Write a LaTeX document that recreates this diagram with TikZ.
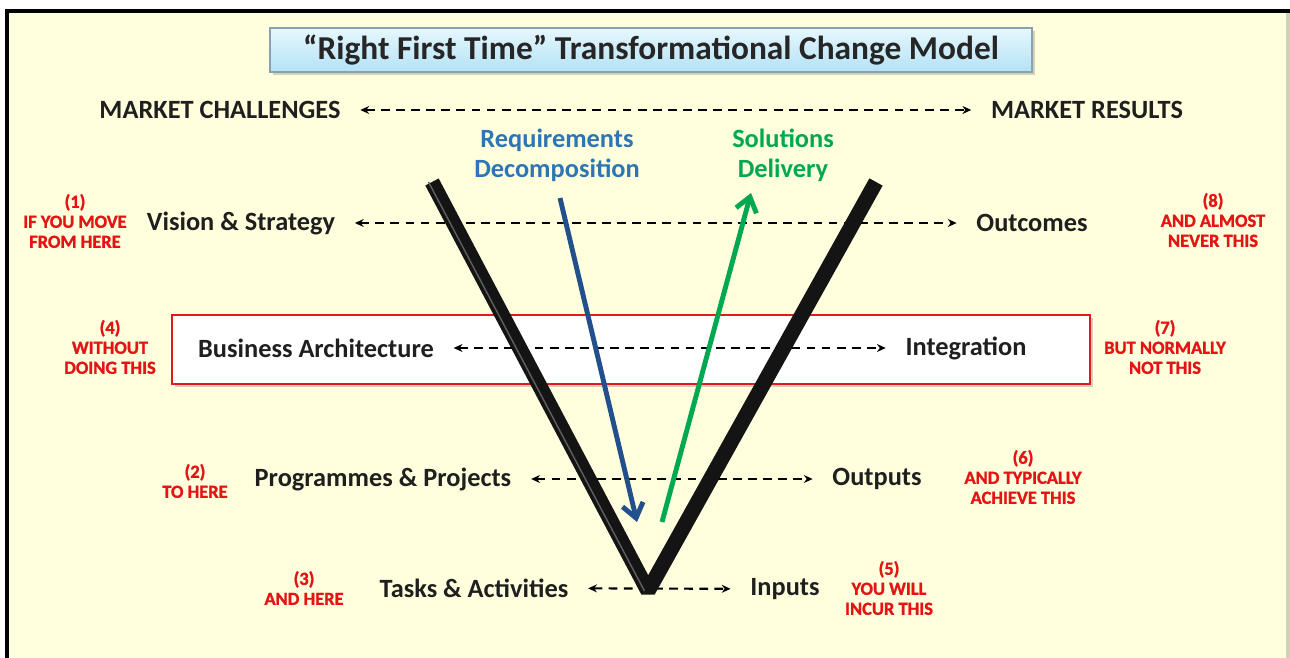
\documentclass[tikz,border=0pt]{standalone}
\usepackage{fontspec}
\setmainfont{Carlito}
\newfontfamily\notefont[UprightFeatures={FakeBold=1.3},BoldFeatures={FakeBold=1.3}]{Carlito}
\usetikzlibrary{arrows.meta,shadows}
\definecolor{paper}{RGB}{255,255,221}
\definecolor{rimred}{RGB}{222,28,28}
\definecolor{notered}{RGB}{228,20,20}
\definecolor{reqblue}{RGB}{46,117,182}
\definecolor{arrblue}{RGB}{34,80,140}
\definecolor{solgreen}{RGB}{0,168,82}
\definecolor{titletop}{RGB}{230,247,253}
\definecolor{titlebot}{RGB}{180,226,245}
\definecolor{titlerim}{RGB}{138,162,176}

\begin{document}
\begin{tikzpicture}[x=.02cm,y=-.02cm,line width=.6pt,
  lab/.style={font=\fontsize{15}{17}\selectfont\bfseries,text=black!88,inner sep=0pt,align=center},
  note/.style={font=\notefont\fontsize{10.5}{11.4}\selectfont\bfseries,text=notered,inner sep=0pt,align=center},
  link/.style={dashed,dash pattern=on 5pt off 3.6pt,line width=1.2pt,
    {Stealth[length=5pt,width=4.5pt]}-{Stealth[length=5pt,width=4.5pt]},shorten <=11pt,shorten >=11pt},
  flow/.style={line width=2.8pt,-{Straight Barb[length=8pt,width=12pt]}},
  vee/.style={line width=8.6pt,line join=bevel,black!92},
  shade/.style={drop shadow={opacity=.35,shadow xshift=1.6pt,shadow yshift=-1.6pt}}]
  \useasboundingbox (0,0) rectangle (1290,658);
  % paper and frame
  \fill[white] (0,0) rectangle (1290,658);
  \fill[paper] (7,11) rectangle (1287,658);
  \draw[line width=1.8pt] (7,658) -- (7,11) -- (1290,11);
  \draw[line width=2pt,paper!82!black] (1288,13) -- (1288,658);
  % title
  \node[draw=titlerim,line width=1pt,top color=titletop,bottom color=titlebot,shade,
    minimum width=15.24cm,minimum height=.88cm,inner sep=0pt,
    font=\fontsize{19}{22}\selectfont\bfseries,text=black!85] (title) at (651,50)
    {“Right First Time” Transformational Change Model};
  % highlighted band
  \node[draw=rimred,line width=1.6pt,fill=white,shade,
    minimum width=18.36cm,minimum height=1.38cm] (band) at (631,349.5) {};
  % left and right labels
  \node[lab] (mc) at (220,110) {MARKET CHALLENGES};
  \node[lab] (mr) at (1087,110) {MARKET RESULTS};
  \node[lab] (vs) at (241,223) {Vision \& Strategy};
  \node[lab] (oc) at (1032,223) {Outcomes};
  \node[lab] (ba) at (316,348) {Business Architecture};
  \node[lab] (ig) at (966,348) {Integration};
  \node[lab] (pp) at (383,479) {Programmes \& Projects};
  \node[lab] (op) at (877,479) {Outputs};
  \node[lab] (ta) at (474,588) {Tasks \& Activities};
  \node[lab] (ip) at (785,589) {Inputs};
  \draw[link] (mc) -- (mr);
  \draw[link] (vs) -- (oc);
  \draw[link] (ba) -- (ig);
  \draw[link] (pp) -- (op);
  \draw[link] (ta) -- (ip);
  % numbered remarks
  \node[note] (n1) at (75,221) {(1)\\IF YOU MOVE\\FROM HERE};
  \node[note] (n2) at (195,481) {(2)\\TO HERE};
  \node[note] (n3) at (304,588) {(3)\\AND HERE};
  \node[note] (n4) at (110,347) {(4)\\WITHOUT\\DOING THIS};
  \node[note] (n5) at (889,588) {(5)\\YOU WILL\\INCUR THIS};
  \node[note] (n6) at (1023,477) {(6)\\AND TYPICALLY\\ACHIEVE THIS};
  \node[note] (n7) at (1165,347) {(7)\\BUT NORMALLY\\NOT THIS};
  \node[note] (n8) at (1213,220) {(8)\\AND ALMOST\\NEVER THIS};
  % the V
  \coordinate (vl) at (432,182);
  \coordinate (vt) at (648,591);
  \coordinate (vr) at (876,182);
  \draw[vee] (vl) -- (vt) -- (vr);
  \draw[gray!75!black,line width=.8pt,transform canvas={xshift=-2pt}] (vl) -- (vt);
  % down and up arrows
  \node[lab,text=reqblue] (req) at (557,155) {Requirements\\Decomposition};
  \node[lab,text=solgreen] (sol) at (783,155) {Solutions\\Delivery};
  \coordinate (bs) at (560,198);
  \coordinate (be) at (637,522);
  \coordinate (gs) at (662,522);
  \coordinate (ge) at (751,193);
  \draw[flow,arrblue] (bs) -- (be);
  \draw[flow,solgreen] (gs) -- (ge);
\end{tikzpicture}
\end{document}
